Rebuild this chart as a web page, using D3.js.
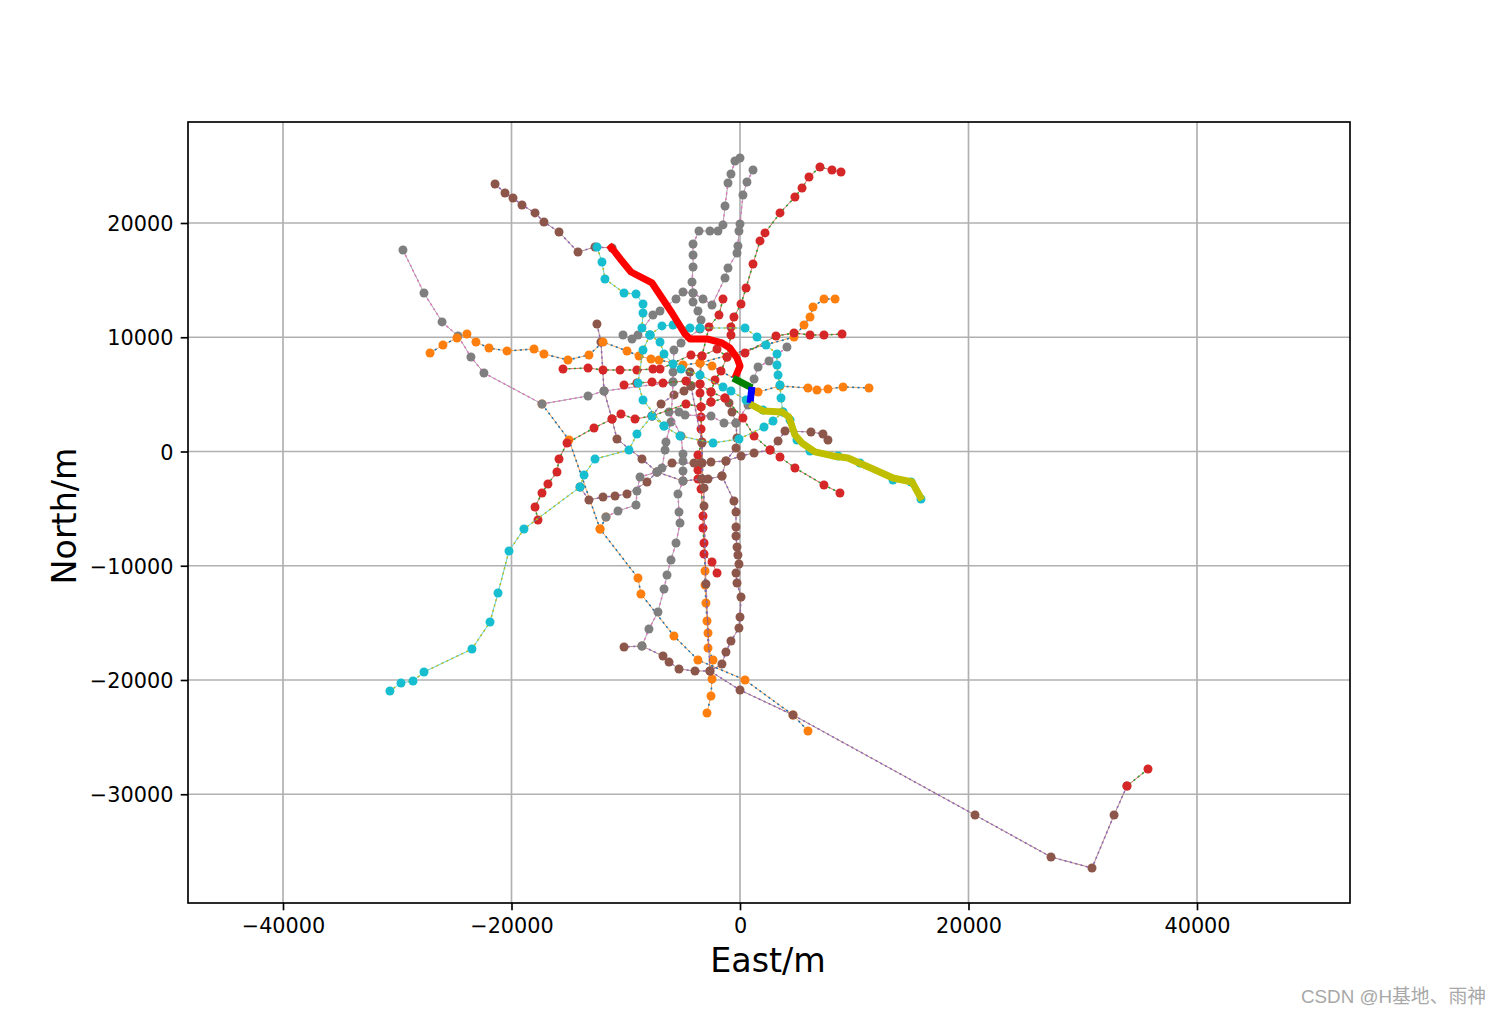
<!DOCTYPE html>
<html>
<head>
<meta charset="utf-8">
<title>Metro network East/North</title>
<script src="https://cdn.jsdelivr.net/npm/d3@7.9.0/dist/d3.min.js"></script>
<style>
  html, body { margin: 0; padding: 0; background: #fff; }
  svg { display: block; }
  text { font-family: "DejaVu Sans", sans-serif; fill: #000; }
  .watermark { font-family: "Liberation Sans", "Noto Sans CJK SC", sans-serif; fill: #a8a8a8; }
</style>
</head>
<body>
<svg id="plot" width="1500" height="1015"></svg>
<script>
// positions of the stations, [east, north] in metres
const orangeNorthSouth = [[8320,13350],[7350,13350],[6390,12650],[6130,11770],[5600,11070],[4730,10020],[-3500,7750],[-3060,-10460],[-3060,-11690],[-2980,-13260],[-2890,-14840],[-2800,-15890],[-2800,-17200],[-2360,-18250],[-2450,-19910],[-2540,-21400],[-2890,-22890]];
const orangeSouth = [[-17330,4160],[-14970,1010],[-12250,-6780],[-8930,-11070],[-8670,-12470],[-5780,-16150],[-3680,-18250],[440,-20000],[4640,-23060],[5950,-24460]];
const orangeBranch = [[-11730,-5730],[-12250,-6780]];
const orangeWest = [[-27130,8620],[-26000,9320],[-24770,9930],[-23900,10280],[-23110,9580],[-21970,9060],[-20390,8800],[-18030,8970],[-17160,8530],[-15060,8010],[-13220,8450],[-11990,9580],[-9890,8800],[-8840,8360],[-7790,8100],[-7090,8010],[-4990,7570],[-3500,7750],[-2450,7480],[1580,5210],[3500,5730],[5950,5560],[6740,5380],[7700,5470],[9020,5650],[11290,5560]];

const redVertical = [[-1490,13350],[-1840,11950],[-2710,10900],[-3330,8360],[-3500,5910],[-3500,5120],[-3410,3900],[-3410,3020],[-3410,1970],[-3330,830],[-3680,-310],[-3680,-1620],[-3680,-2410],[-3410,-3280],[-3240,-5650],[-3240,-6700],[-3150,-8010],[-3150,-8970],[-2450,-9670],[-2010,-10630]];
const redNorthEast = [[8840,24460],[8050,24640],[7000,24900],[6040,24030],[5430,23060],[4810,22280],[3500,20880],[2190,19130],[1750,18430],[1140,16410],[530,14310],[90,12910],[-530,11770],[-790,10900],[-790,10200],[-1140,8270],[-1660,7050],[-2190,6260],[-2540,5210],[-2540,4330]];
const redEastWest = [[-15490,7220],[-13300,7310],[-11990,7130],[-10500,7130],[-9020,7130],[-7620,7220],[-7000,7220],[-4290,8450],[-3330,8360],[-2010,8970],[-1140,8270],[440,8620],[3150,10110],[4730,10370],[6130,10200],[7350,10200],[8930,10280]];
const redSouthEast = [[8750,-3630],[7350,-2930],[4810,-1440],[3500,-480],[2630,130],[1230,1360],[260,2930],[-1310,4680],[-2540,5210],[-3500,5910],[-4730,6170],[-6740,6000],[-7700,6080],[-9020,6000],[-10150,5820]];
const redSouthWest = [[-17680,-6000],[-17940,-4860],[-17330,-3630],[-16810,-2840],[-16020,-1790],[-15840,-660],[-15140,740],[-12780,2060],[-11200,2840],[-10420,3280],[-9190,2840],[-7700,3110],[-4730,4160],[-3410,3900],[-2540,4330],[-1310,4680]];
const redFar = [[35710,-27790],[33870,-29280]];

const brownLong = [[33870,-29280],[32740,-31820],[30810,-36460],[27220,-35490],[20570,-31820],[4640,-23060],[0,-20880],[-2630,-19210],[-2980,-11600],[-3150,-4770],[-3150,-3190],[-3330,-2410],[-3330,-1010],[-3330,740],[-4290,5730],[-4380,6960]];
const brownSouth = [[-12520,11160],[-12170,9580],[-11900,5300],[-11200,2840],[-10770,1090],[-8580,-660],[-7260,-1790],[-4990,-2580],[-3330,-2410],[-2800,-2410],[-1580,-2140],[-530,-4330],[-350,-5300],[-350,-6610],[-350,-7400],[-260,-8360],[-180,-9060],[-90,-9850],[-350,-10630],[-260,-11510],[90,-12740],[0,-14490],[-90,-15450],[-790,-16590],[-1230,-17550],[-1580,-18600],[-2630,-19210],[-3940,-19210],[-5340,-19040],[-6210,-18430],[-6740,-17900],[-8580,-17020],[-10150,-17110]];
const brownInner = [[-7700,3110],[-6910,4160],[-5780,4950],[-4900,5300],[-4290,5730]];
const brownCentre = [[-960,4250],[-700,3460],[-350,2490],[-260,1180],[-350,310],[-1230,-830],[-1580,-2140]];
const brownEastWest = [[7700,1010],[7260,1530],[6210,1710],[3940,1790],[3330,920],[2630,130],[1230,-130],[90,-390],[-1230,-830],[-2540,-920],[-3330,-1010],[-4030,-1010],[-5950,-1010],[-7260,-1790],[-8140,-2670],[-9890,-3720],[-10940,-3900],[-11990,-3980],[-13220,-4250],[-14000,-3110]];
const brownNorthWest = [[-21440,23410],[-20570,22630],[-19870,22190],[-19080,21580],[-17940,20880],[-17160,20090],[-15840,19210],[-14180,17460],[-12690,17900],[-11200,17810]];

const grayWest = [[-29500,17640],[-27660,13870],[-26080,11340],[-24680,10110],[-23550,8270],[-22410,6870],[-17330,4160],[-13300,4860],[-11900,5300],[-5860,6080]];
const grayNorth = [[1140,24640],[610,23590],[260,22450],[0,19910],[-90,19300],[-180,17990],[-260,17370],[-1050,16060],[-1310,15190],[-2450,12820],[-3240,13350],[-4110,13870],[-4990,13960],[-5600,13350],[-7000,12300],[-7620,11950],[-8930,10200],[-9450,9850],[-10240,10200]];
const grayCentre = [[0,25690],[-440,25430],[-790,24290],[-1050,23500],[-1310,21490],[-1490,19830],[-1930,19300],[-2630,19300],[-3590,19300],[-4110,18160],[-4110,17200],[-4110,16150],[-4200,14840],[-4110,13870],[-4110,13090],[-3680,12300],[-3410,11510],[-3500,10720],[-5160,9500],[-5780,8880],[-5860,6960],[-5860,6080],[-6040,2580],[-6480,830],[-6560,130],[-6830,-1440],[-7260,-1790],[-8750,-2230],[-9020,-3460],[-9100,-4680],[-10680,-5210],[-11730,-5730]];
const graySouth = [[4110,9150],[2540,7920],[1580,7400],[1230,6350],[700,4070],[-350,2490],[-1400,2490],[-2540,3110],[-4810,3190],[-5340,3460],[-6210,3460],[-5160,1360],[-4990,-220],[-4990,-830],[-4990,-1710],[-4990,-2580],[-5430,-3720],[-5340,-5300],[-5250,-6260],[-5600,-8010],[-6040,-9500],[-6390,-10810],[-6650,-12040],[-7180,-14050],[-7970,-15540],[-8580,-17020]];

const cyanLong = [[-12520,17900],[-12080,16590],[-11820,15100],[-10150,13870],[-9100,13790],[-8490,12910],[-8490,12120],[-8580,10810],[-7880,10200],[-7000,9580],[-6650,8530],[-5860,7660],[-5160,7220],[-3500,6700],[-1490,5650],[-790,5300],[530,4510],[2010,3630],[3760,3460],[4380,2760],[4990,1010],[6130,40],[8580,-390],[10500,-1010],[13390,-2490],[14970,-2670],[15840,-4160]];
const cyanRing = [[-7880,10200],[-6830,10990],[-5860,11070],[-4380,10810],[-3500,10810],[440,10810],[1490,10020],[2280,9320],[3240,8530],[3240,7570],[3330,6700],[3500,5820],[3590,4680],[3760,3460],[2890,2670],[2100,2140],[-90,1090],[-2360,740],[-5250,1360],[-6650,2230],[-7700,3110],[-9020,1530],[-9720,130],[-12690,-660],[-13650,-2060],[-14000,-3110],[-18910,-6780],[-20220,-8710],[-21180,-12390],[-21880,-14920],[-23460,-17290],[-27660,-19300],[-28620,-20090],[-29670,-20260],[-30640,-20960]];
const cyanBranch = [[-7880,10200],[-8490,8880],[-8930,6000],[-8490,4510],[-6650,2230]];

// highlighted route on top of the network
const routeRed = [[-11470,18070],[-10940,17460],[-10330,16670],[-9540,15710],[-7700,14750],[-7000,13700],[-5950,12120],[-4810,10280],[-4380,9850],[-2890,9850],[-1580,9500],[-880,9060],[-260,8180],[0,7480],[-440,6430]];
const routeGreen = [[-610,6430],[1050,5560]];
const routeBlue = [[1050,5650],[880,4250]];
const routeOlive = [[880,4160],[2010,3550],[3680,3460],[4290,3020],[4810,1440],[5430,740],[6560,-40],[8140,-390],[9450,-570],[11640,-1530],[13390,-2320],[15060,-2670],[15930,-4250]];

const xTicks = [-40000, -20000, 0, 20000, 40000];
const yTicks = [-30000, -20000, -10000, 0, 10000, 20000];

const tab = {
  blue: '#1f77b4', orange: '#ff7f0e', green: '#2ca02c', red: '#d62728', purple: '#9467bd',
  brown: '#8c564b', pink: '#e377c2', gray: '#7f7f7f', olive: '#bcbd22', cyan: '#17becf',
};

// [stations, marker colour, dotted colour], later ones are drawn on top
const lines = [
  [orangeNorthSouth, tab.orange, tab.blue],
  [orangeSouth, tab.orange, tab.blue],
  [orangeBranch, tab.orange, tab.blue],
  [redVertical, tab.red, tab.green],
  [brownLong, tab.brown, tab.purple],
  [brownSouth, tab.brown, tab.purple],
  [brownInner, tab.brown, tab.purple],
  [brownCentre, tab.brown, tab.purple],
  [brownEastWest, tab.brown, tab.purple],
  [brownNorthWest, tab.brown, tab.purple],
  [grayWest, tab.gray, tab.pink],
  [grayNorth, tab.gray, tab.pink],
  [grayCentre, tab.gray, tab.pink],
  [graySouth, tab.gray, tab.pink],
  [orangeWest, tab.orange, tab.blue],
  [redNorthEast, tab.red, tab.green],
  [redEastWest, tab.red, tab.green],
  [redSouthEast, tab.red, tab.green],
  [redSouthWest, tab.red, tab.green],
  [redFar, tab.red, tab.green],
  [cyanLong, tab.cyan, tab.olive],
  [cyanRing, tab.cyan, tab.olive],
  [cyanBranch, tab.cyan, tab.olive],
];

const routes = [
  [routeRed, '#ff0000'],
  [routeGreen, '#008000'],
  [routeBlue, '#0000ff'],
  [routeOlive, '#bfbf00'],
];

const svg = d3.select('#plot');
const plotLeft = 188, plotRight = 1350, plotTop = 122, plotBottom = 903;

const x = d3.scaleLinear().domain([-48315, 53392]).range([plotLeft, plotRight]);
const y = d3.scaleLinear().domain([-39519, 28840]).range([plotBottom, plotTop]);

const lineGen = d3.line().x((d) => x(d[0])).y((d) => y(d[1]));

// grid
const grid = svg.append('g').attr('stroke', '#b0b0b0').attr('stroke-width', 1.67);
xTicks.forEach((t) => {
  grid.append('line').attr('x1', x(t)).attr('x2', x(t)).attr('y1', plotTop).attr('y2', plotBottom);
});
yTicks.forEach((t) => {
  grid.append('line').attr('x1', plotLeft).attr('x2', plotRight).attr('y1', y(t)).attr('y2', y(t));
});

// stations and links
lines.forEach(([stations, colour, dotted]) => {
  const g = svg.append('g');
  g.append('path').attr('d', lineGen(stations)).attr('fill', 'none')
    .attr('stroke', colour).attr('stroke-width', 0.7);
  g.append('path').attr('d', lineGen(stations)).attr('fill', 'none')
    .attr('stroke', dotted).attr('stroke-width', 1.6).attr('stroke-dasharray', '2.1 3.4');
  g.selectAll('circle').data(stations).join('circle')
    .attr('cx', (d) => x(d[0])).attr('cy', (d) => y(d[1])).attr('r', 4.5).attr('fill', colour);
});

routes.forEach(([stations, colour]) => {
  svg.append('path').attr('d', lineGen(stations)).attr('fill', 'none')
    .attr('stroke', colour).attr('stroke-width', 7).attr('stroke-linejoin', 'round');
});

// axes
const xAxis = d3.axisBottom(x).tickValues(xTicks).tickFormat(d3.format('d'))
  .tickSize(7.3).tickPadding(8.3).tickSizeOuter(0);
const yAxis = d3.axisLeft(y).tickValues(yTicks).tickFormat(d3.format('d'))
  .tickSize(7.3).tickPadding(7.3).tickSizeOuter(0);

const xAxisG = svg.append('g').attr('transform', `translate(0,${plotBottom})`).call(xAxis);
const yAxisG = svg.append('g').attr('transform', `translate(${plotLeft},0)`).call(yAxis);
yAxisG.selectAll('.tick text').attr('dy', '0.37em');

[xAxisG, yAxisG].forEach((g) => {
  g.select('.domain').remove();
  g.selectAll('.tick line').attr('stroke', '#000').attr('stroke-width', 1.67);
  g.selectAll('.tick text').attr('font-size', 20.8).attr('fill', '#000')
    .style('font-family', '"DejaVu Sans", sans-serif');
});

svg.append('rect').attr('x', plotLeft).attr('y', plotTop)
  .attr('width', plotRight - plotLeft).attr('height', plotBottom - plotTop)
  .attr('fill', 'none').attr('stroke', '#000').attr('stroke-width', 1.67);

svg.append('text').attr('x', 768).attr('y', 972).attr('text-anchor', 'middle')
  .attr('font-size', 33.3).text('East/m');
svg.append('text').attr('transform', 'translate(76,516) rotate(-90)').attr('text-anchor', 'middle')
  .attr('font-size', 33.3).text('North/m');

svg.append('text').attr('class', 'watermark').attr('x', 1486).attr('y', 1003)
  .attr('text-anchor', 'end').attr('font-size', 18.8).text('CSDN @H基地、雨神');
</script>
</body>
</html>
